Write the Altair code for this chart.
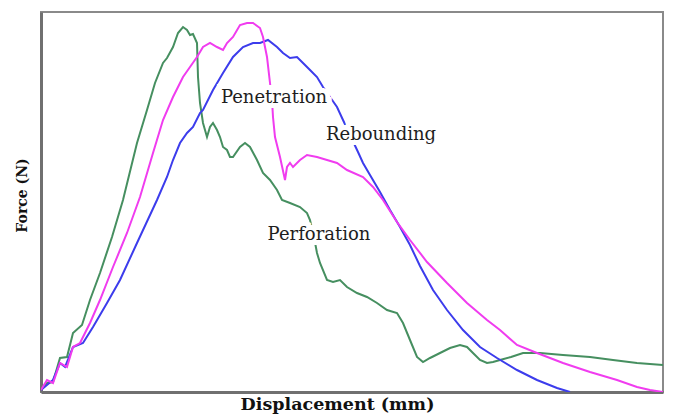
import altair as alt
import pandas as pd

# Force-displacement traces for the three impact outcomes (arbitrary units)
perforation_disp = [0, 6, 12, 19, 26, 32, 41, 49, 59, 71, 82, 96, 106, 114, 122, 126, 132, 137, 142, 146,
                    149, 152, 156, 157, 159, 162, 166, 169, 172, 176, 179, 182, 186, 189, 192, 199, 204, 209,
                    216, 222, 229, 236, 241, 249, 259, 266, 269, 273, 276, 279, 286, 292, 299, 306, 316, 326,
                    336, 346, 356, 362, 369, 376, 382, 389, 399, 409, 419, 426, 432, 439, 446, 452, 459, 470,
                    482, 499, 522, 549, 572, 596, 622]
perforation_force = [2, 9, 10, 34, 35, 59, 67, 92, 119, 155, 192, 249, 282, 309, 329, 334, 345, 359, 365, 362,
                     357, 358, 349, 315, 289, 269, 255, 265, 269, 262, 255, 245, 242, 235, 235, 245, 249, 245,
                     232, 219, 212, 202, 192, 189, 185, 179, 172, 155, 139, 129, 112, 110, 112, 105, 99, 95,
                     89, 82, 79, 69, 52, 35, 30, 34, 39, 44, 47, 45, 39, 32, 29, 30, 32, 35,
                     39, 39, 37, 35, 32, 29, 27]

penetration_disp = [0, 6, 12, 19, 26, 32, 39, 49, 59, 72, 86, 99, 112, 122, 132, 142, 149, 156, 162, 169,
                    176, 182, 186, 192, 199, 206, 212, 219, 222, 226, 229, 231, 232, 234, 239, 244, 246, 249,
                    252, 259, 266, 276, 286, 296, 306, 322, 332, 342, 356, 369, 386, 406, 426, 446, 459,
                    476, 496, 522, 549, 576, 596, 609, 622]
penetration_force = [2, 12, 9, 29, 25, 45, 49, 69, 92, 125, 159, 195, 239, 272, 295, 315, 325, 335, 345, 349,
                     345, 342, 349, 355, 367, 369, 369, 364, 355, 335, 309, 292, 275, 255, 235, 212, 225, 229,
                     225, 232, 237, 235, 232, 229, 222, 215, 205, 192, 170, 152, 130, 109, 89, 72, 62,
                     47, 39, 29, 20, 12, 5, 2, 0]

rebounding_disp = [0, 12, 19, 24, 32, 42, 52, 66, 79, 96, 116, 126, 132, 139, 146, 152, 159, 162, 172, 182,
                   192, 202, 212, 219, 227, 236, 242, 249, 256, 262, 269, 276, 282, 289, 296, 302, 309, 317,
                   322, 329, 339, 349, 359, 369, 379, 392, 406, 422, 439, 456, 476, 496, 516, 529]
rebounding_force = [2, 12, 29, 25, 45, 49, 65, 89, 112, 149, 192, 215, 232, 249, 259, 265, 279, 282, 302, 319,
                    335, 345, 349, 349, 352, 345, 339, 334, 335, 329, 322, 315, 305, 295, 285, 272, 257, 240,
                    229, 217, 200, 182, 165, 147, 126, 102, 82, 62, 45, 34, 22, 12, 4, 0]

series_names = ["Perforation", "Rebounding", "Penetration"]
series_colors = ["#468f60", "#3c3cec", "#f03cef"]

# Curve labels and where they sit on the chart
label_text = ["Penetration", "Rebounding", "Perforation"]
label_disp = [233, 340, 278]
label_force = [294, 257, 157]

rows = []
for name, xs, ys in [("Perforation", perforation_disp, perforation_force),
                     ("Rebounding", rebounding_disp, rebounding_force),
                     ("Penetration", penetration_disp, penetration_force)]:
    for i, (x, y) in enumerate(zip(xs, ys)):
        rows.append({"series": name, "idx": i, "disp": x, "force": y})
curves = pd.DataFrame(rows)
labels = pd.DataFrame({"text": label_text, "disp": label_disp, "force": label_force})

x_scale = alt.Scale(domain=[0, 622], nice=False, zero=False)
y_scale = alt.Scale(domain=[0, 380], nice=False, zero=False)

x_axis = alt.Axis(title="Displacement (mm)", labels=False, ticks=False, grid=False,
                  domainColor="#707070", domainWidth=3,
                  titleFont="DejaVu Serif", titleFontSize=17.5, titleFontWeight="bold",
                  titleColor="#111111", titleX=296, titleY=12, titleBaseline="middle",
                  titleAlign="center")
y_axis = alt.Axis(title="Force (N)", labels=False, ticks=False, grid=False,
                  domainColor="#707070", domainWidth=3,
                  titleFont="DejaVu Serif", titleFontSize=14, titleFontWeight="bold",
                  titleColor="#111111", titleX=-19, titleY=183, titleBaseline="middle",
                  titleAlign="center", titleAngle=-90)

lines = alt.Chart(curves).mark_line(strokeWidth=2, clip=True).encode(
    x=alt.X("disp:Q", scale=x_scale, axis=x_axis),
    y=alt.Y("force:Q", scale=y_scale, axis=y_axis),
    color=alt.Color("series:N", scale=alt.Scale(domain=series_names, range=series_colors), legend=None),
    order="idx:Q",
)

# White halo under each label masks the curves passing behind it
halo = alt.Chart(labels).mark_text(
    font="DejaVu Serif", fontSize=18, stroke="white", strokeWidth=10, fill="white",
    align="center", baseline="middle"
).encode(x=alt.X("disp:Q", scale=x_scale), y=alt.Y("force:Q", scale=y_scale), text="text:N")

text = alt.Chart(labels).mark_text(
    font="DejaVu Serif", fontSize=18, color="#1e1e1e", align="center", baseline="middle"
).encode(x=alt.X("disp:Q", scale=x_scale), y=alt.Y("force:Q", scale=y_scale), text="text:N")

chart = alt.layer(lines, halo, text).properties(
    width=622, height=380,
    autosize=alt.AutoSizeParams(type="none"),
    padding={"left": 41, "top": 12, "right": 10, "bottom": 22},
    background="white",
).configure_view(stroke="#8a8a8a", strokeWidth=2)

chart.save("out.html", embed_options={"renderer": "svg", "actions": False})
